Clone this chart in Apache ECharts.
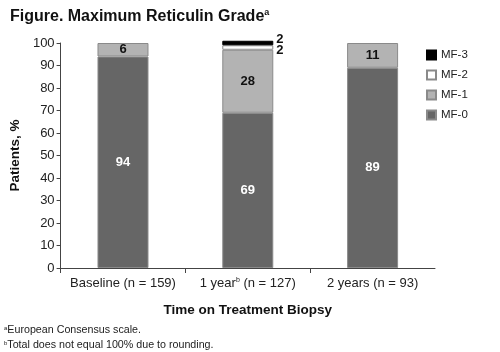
<!DOCTYPE html>
<html>
<head>
<meta charset="utf-8">
<script src="https://cdn.jsdelivr.net/npm/echarts@6/dist/echarts.min.js"></script>
<style>
  html, body { margin: 0; padding: 0; background: #fff; }
  #chart { width: 500px; height: 352px; }
</style>
</head>
<body>
<div id="chart"></div>
<script>
const categories = ['Baseline (n = 159)', '1 year{sup|b} (n = 127)', '2 years (n = 93)']
const mf0 = [94, 69, 89]
const mf1 = [6, 28, 11]
const mf2 = [0, 2, 0]
const mf3 = [0, 2, 0]
const yTicks = [0, 10, 20, 30, 40, 50, 60, 70, 80, 90, 100]

const font = 'Arial, "Liberation Sans", sans-serif'
const myChart = echarts.init(document.getElementById('chart'))

function barSeries(name, data, color, border, labelColor, labelPos, offset = [0, 0]) {
  return {
    name,
    type: 'bar',
    stack: 'grade',
    barWidth: 51,
    clip: false,
    // zero shares are left out so no empty border line is drawn
    data: data.map((v) => (v ? v : '-')),
    itemStyle: { color, borderColor: border, borderWidth: 1 },
    label: {
      show: true,
      position: labelPos,
      distance: 3,
      offset,
      color: labelColor,
      fontFamily: font,
      fontWeight: 'bold',
      fontSize: 13,
    },
  }
}

const option = {
  backgroundColor: '#fff',
  animation: false,
  title: {
    text: 'Figure. Maximum Reticulin Grade{sup|a}',
    left: 5,
    top: 3,
    textStyle: {
      fontFamily: font,
      fontSize: 16,
      fontWeight: 'bold',
      color: '#111',
      rich: { sup: { fontSize: 9, fontWeight: 'bold', verticalAlign: 'top', padding: [0, 0, 8, 0] } },
    },
  },
  legend: {
    orient: 'vertical',
    left: 421,
    top: 44,
    itemWidth: 9,
    itemHeight: 9,
    itemGap: 8,
    icon: 'rect',
    data: ['MF-3', 'MF-2', 'MF-1', 'MF-0'],
    textStyle: { fontFamily: font, fontSize: 11.5, color: '#222' },
  },
  grid: { left: 57, right: 65, top: 43, bottom: 84, containLabel: false },
  xAxis: {
    type: 'category',
    data: categories,
    name: 'Time on Treatment Biopsy',
    nameLocation: 'middle',
    nameGap: 35,
    nameTextStyle: { fontFamily: font, fontSize: 13.5, fontWeight: 'bold', color: '#111' },
    axisLine: { lineStyle: { color: '#444' } },
    axisTick: { show: true, length: 5, lineStyle: { color: '#444' } },
    axisLabel: {
      interval: 0,
      fontFamily: font,
      fontSize: 13,
      color: '#222',
      margin: 9,
      rich: { sup: { fontSize: 7, verticalAlign: 'top', padding: [0, 0, 6, 0] } },
    },
  },
  yAxis: {
    type: 'value',
    min: 0,
    max: 100,
    interval: 10,
    name: 'Patients, %',
    nameLocation: 'middle',
    nameGap: 31,
    nameTextStyle: { fontFamily: font, fontSize: 13.5, fontWeight: 'bold', color: '#111' },
    splitLine: { show: false },
    axisLine: { show: true, lineStyle: { color: '#444' } },
    axisTick: { show: true, length: 4, lineStyle: { color: '#444' } },
    axisLabel: {
      fontFamily: font,
      fontSize: 13,
      color: '#222',
      margin: 6,
      formatter: (v) => (yTicks.includes(v) ? String(v) : ''),
    },
  },
  graphic: [
    {
      type: 'text',
      left: 4,
      top: 325,
      style: {
        text: '{s|a}European Consensus scale.',
        font: '10.7px ' + font,
        fill: '#222',
        rich: { s: { fontSize: 6, verticalAlign: 'top', padding: [0, 0, 4, 0] } },
      },
    },
    {
      type: 'text',
      left: 4,
      top: 340,
      style: {
        text: '{s|b}Total does not equal 100% due to rounding.',
        font: '10.7px ' + font,
        fill: '#222',
        rich: { s: { fontSize: 6, verticalAlign: 'top', padding: [0, 0, 4, 0] } },
      },
    },
  ],
  series: [
    barSeries('MF-0', mf0, '#666666', '#8a8a8a', '#ffffff', 'inside'),
    barSeries('MF-1', mf1, '#b3b3b3', '#8a8a8a', '#111111', 'inside'),
    barSeries('MF-2', mf2, '#ffffff', '#8a8a8a', '#111111', 'right', [0, 3]),
    barSeries('MF-3', mf3, '#000000', '#000000', '#111111', 'right', [0, -4]),
  ],
}
myChart.setOption(option, true)
</script>
</body>
</html>
